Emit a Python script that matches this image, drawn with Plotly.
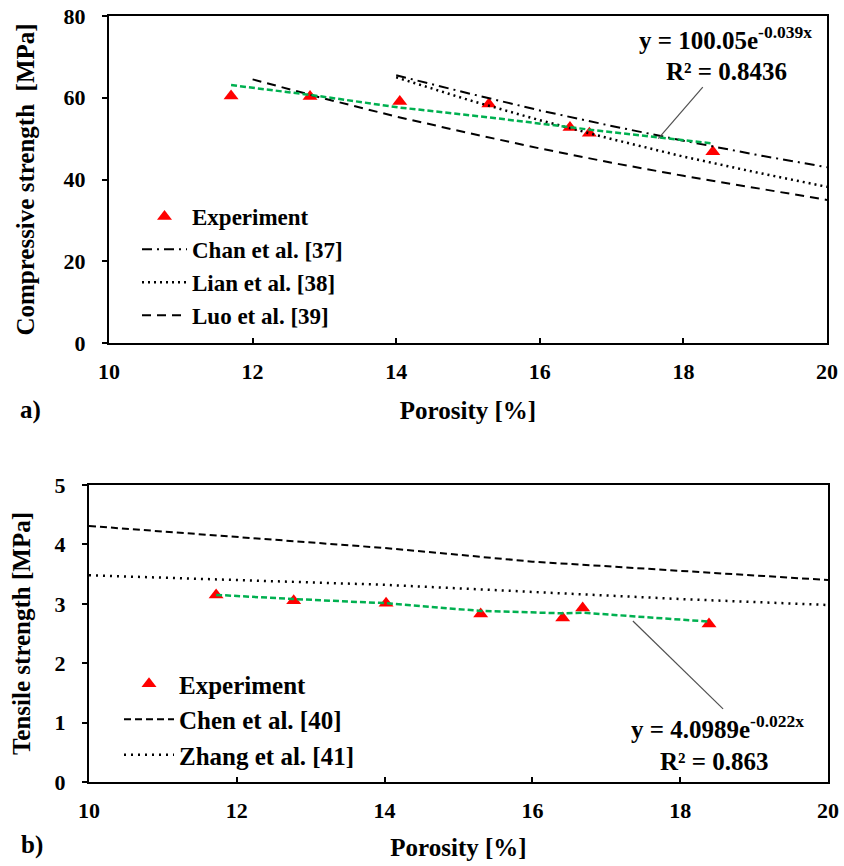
import plotly.graph_objects as go

W, H = 844, 866

# ---------------- data (a) compressive strength ----------------
exp_x_a = [11.7, 12.8, 14.05, 15.29, 16.42, 16.69, 18.41]
exp_y_a = [60.4, 60.3, 59.1, 58.5, 52.7, 51.3, 46.8]
fit_y_a = [63.1, 60.7, 57.6, 55.2, 52.8, 52.2, 48.8]

chan_x = [14, 15, 16, 17, 18, 19, 20]
chan_y = [65.5, 61.1, 56.9, 53.1, 49.5, 46.1, 43.0]
lian_x = [14, 15, 16, 17, 18, 19, 20]
lian_y = [65.0, 59.5, 54.5, 49.9, 45.6, 41.8, 38.2]
luo_x = [12, 13, 14, 15, 16, 17, 18, 19, 20]
luo_y = [64.5, 59.8, 55.4, 51.4, 47.6, 44.1, 40.9, 37.9, 35.0]

# ---------------- data (b) tensile strength ----------------
exp_x_b = [11.72, 12.77, 14.02, 15.3, 16.41, 16.68, 18.39]
exp_y_b = [3.15, 3.05, 3.01, 2.83, 2.76, 2.93, 2.66]
fit_y_b = [3.15, 3.08, 3.01, 2.88, 2.84, 2.85, 2.70]

chen_x = [10, 12, 14, 16, 18, 20]
chen_y = [4.31, 4.12, 3.94, 3.71, 3.55, 3.40]
zhang_x = [10, 12, 14, 16, 18, 20]
zhang_y = [3.48, 3.40, 3.32, 3.20, 3.08, 2.98]

x_ticks = [10, 12, 14, 16, 18, 20]
y_ticks_a = [0, 20, 40, 60, 80]
y_ticks_b = [0, 1, 2, 3, 4, 5]

FONT = "Liberation Serif"
GREEN = "rgb(0,176,80)"
RED = "rgb(255,0,0)"


def px_x(p):
    return p / W


def px_y(p):
    return 1 - p / H


fig = go.Figure()

# ---- panel a ----
fig.add_trace(go.Scatter(x=exp_x_a, y=exp_y_a, mode="markers", name="Experiment",
                         marker=dict(symbol="triangle-up", size=13, color=RED),
                         xaxis="x", yaxis="y", legend="legend"))
fig.add_trace(go.Scatter(x=chan_x, y=chan_y, mode="lines", name="Chan et al. [37]",
                         line=dict(color="black", width=2, dash="10px,5px,2px,5px"),
                         xaxis="x", yaxis="y", legend="legend"))
fig.add_trace(go.Scatter(x=lian_x, y=lian_y, mode="lines", name="Lian et al. [38]",
                         line=dict(color="black", width=2.5, dash="2px,4px"),
                         xaxis="x", yaxis="y", legend="legend"))
fig.add_trace(go.Scatter(x=luo_x, y=luo_y, mode="lines", name="Luo et al. [39]",
                         line=dict(color="black", width=2, dash="9px,6px"),
                         xaxis="x", yaxis="y", legend="legend"))
fig.add_trace(go.Scatter(x=exp_x_a, y=fit_y_a, mode="lines", showlegend=False,
                         line=dict(color=GREEN, width=2.5, dash="6px,3px"),
                         xaxis="x", yaxis="y"))

# ---- panel b ----
fig.add_trace(go.Scatter(x=exp_x_b, y=exp_y_b, mode="markers", name="Experiment",
                         marker=dict(symbol="triangle-up", size=13, color=RED),
                         xaxis="x2", yaxis="y2", legend="legend2"))
fig.add_trace(go.Scatter(x=chen_x, y=chen_y, mode="lines", name="Chen et al. [40]",
                         line=dict(color="black", width=2, dash="7px,4px"),
                         xaxis="x2", yaxis="y2", legend="legend2"))
fig.add_trace(go.Scatter(x=zhang_x, y=zhang_y, mode="lines", name="Zhang et al. [41]",
                         line=dict(color="black", width=2.5, dash="2px,5px"),
                         xaxis="x2", yaxis="y2", legend="legend2"))
fig.add_trace(go.Scatter(x=exp_x_b, y=fit_y_b, mode="lines", showlegend=False,
                         line=dict(color=GREEN, width=2.5, dash="6px,3px"),
                         xaxis="x2", yaxis="y2"))

axis_common = dict(showline=True, linecolor="black", linewidth=2, mirror=True,
                   showgrid=False, zeroline=False, ticklen=5, tickwidth=2, tickcolor="black",
                   tickfont=dict(family=FONT, size=22, color="black", weight="bold"))

title_font = dict(family=FONT, size=25, color="black", weight="bold")

fig.update_layout(
    width=W, height=H,
    margin=dict(l=0, r=0, t=0, b=0, autoexpand=False),
    paper_bgcolor="white", plot_bgcolor="white",
    font=dict(family=FONT, color="black", weight="bold"),
    xaxis=dict(domain=[px_x(109), px_x(827)], range=[10, 20], tickvals=x_ticks,
               ticks="inside", anchor="y", ticklabelstandoff=8,
               title=dict(text="Porosity [%]", font=title_font, standoff=18), **axis_common),
    yaxis=dict(domain=[px_y(343), px_y(16)], range=[0, 80], tickvals=y_ticks_a,
               ticks="outside", anchor="x", ticklabelstandoff=12,
               title=dict(text="Compressive strength  [MPa]", font=title_font, standoff=22),
               **axis_common),
    xaxis2=dict(domain=[px_x(89), px_x(828)], range=[10, 20], tickvals=x_ticks,
                ticks="inside", anchor="y2", ticklabelstandoff=8,
                title=dict(text="Porosity [%]", font=title_font, standoff=16), **axis_common),
    yaxis2=dict(domain=[px_y(782), px_y(485)], range=[0, 5], tickvals=y_ticks_b,
                ticks="outside", anchor="x2", ticklabelstandoff=12,
                title=dict(text="Tensile strength [MPa]", font=title_font, standoff=17),
                **axis_common),
    legend=dict(x=px_x(137), y=px_y(195), xanchor="left", yanchor="top",
                bgcolor="rgba(0,0,0,0)", itemwidth=45, tracegroupgap=0,
                font=dict(family=FONT, size=23, color="black", weight="bold")),
    legend2=dict(x=px_x(119), y=px_y(661), xanchor="left", yanchor="top",
                 bgcolor="rgba(0,0,0,0)", itemwidth=50, tracegroupgap=0,
                 font=dict(family=FONT, size=25, color="black", weight="bold")),
)

eq_font = dict(family=FONT, size=25, color="black", weight="bold")
annotations = [
    dict(x=18.58, y=74.6, xref="x", yref="y", text="y = 100.05e<sup>-0.039x</sup>",
         showarrow=False, font=eq_font),
    dict(x=18.6, y=66.5, xref="x", yref="y", text="R² = 0.8436", showarrow=False, font=eq_font),
    dict(x=18.5, y=0.925, xref="x2", yref="y2", text="y = 4.0989e<sup>-0.022x</sup>",
         showarrow=False, font=eq_font),
    dict(x=18.47, y=0.34, xref="x2", yref="y2", text="R² = 0.863", showarrow=False, font=eq_font),
    dict(x=px_x(31), y=px_y(410), xref="paper", yref="paper", text="a)", showarrow=False,
         xanchor="center", yanchor="middle",
         font=dict(family=FONT, size=25, color="black", weight="bold")),
    dict(x=px_x(32), y=px_y(845), xref="paper", yref="paper", text="b)", showarrow=False,
         xanchor="center", yanchor="middle",
         font=dict(family=FONT, size=25, color="black", weight="bold")),
]
leader = dict(color="rgb(80,80,80)", width=1.2)
shapes = [
    dict(type="line", xref="x", yref="y", x0=17.65, y0=50.0, x1=18.27, y1=62.6, line=leader),
    dict(type="line", xref="x2", yref="y2", x0=17.36, y0=2.71, x1=18.58, y1=1.23, line=leader),
]
fig.update_layout(annotations=annotations, shapes=shapes)

fig.write_html("out.html")
